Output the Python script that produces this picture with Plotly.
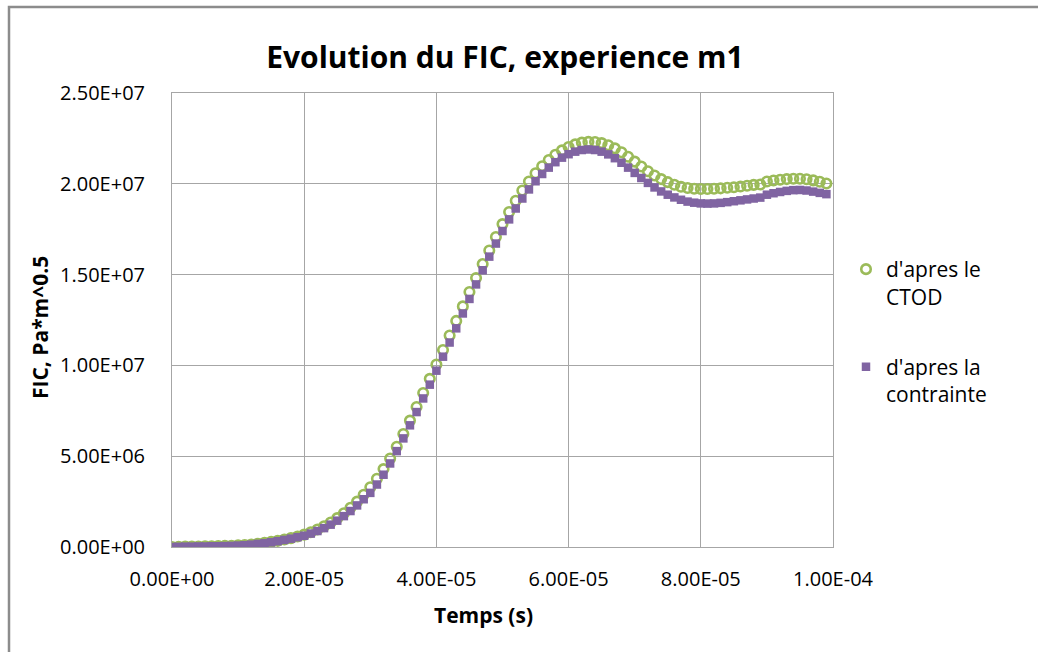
import plotly.graph_objects as go

# time in microseconds
temps_us = [0, 1, 2, 3, 4, 5, 6, 7, 8, 9, 10, 11, 12, 13, 14, 15, 16, 17, 18, 19,
            20, 21, 22, 23, 24, 25, 26, 27, 28, 29, 30, 31, 32, 33, 34, 35, 36, 37, 38, 39,
            40, 41, 42, 43, 44, 45, 46, 47, 48, 49, 50, 51, 52, 53, 54, 55, 56, 57, 58, 59,
            60, 61, 62, 63, 64, 65, 66, 67, 68, 69, 70, 71, 72, 73, 74, 75, 76, 77, 78, 79,
            80, 81, 82, 83, 84, 85, 86, 87, 88, 89, 90, 91, 92, 93, 94, 95, 96, 97, 98, 99]

# FIC from CTOD, in 1e6 Pa*m^0.5
fic_ctod = [0.00, 0.01, 0.02, 0.03, 0.03, 0.04, 0.04, 0.05, 0.06, 0.07,
            0.09, 0.11, 0.14, 0.18, 0.23, 0.28, 0.34, 0.41, 0.49, 0.58,
            0.68, 0.81, 0.96, 1.14, 1.35, 1.59, 1.86, 2.16, 2.50, 2.88,
            3.29, 3.76, 4.29, 4.87, 5.52, 6.22, 6.96, 7.71, 8.48, 9.26,
            10.05, 10.85, 11.65, 12.45, 13.25, 14.04, 14.81, 15.58, 16.33, 17.07,
            17.78, 18.45, 19.07, 19.63, 20.13, 20.58, 20.97, 21.31, 21.60, 21.84,
            22.03, 22.17, 22.27, 22.31, 22.30, 22.24, 22.12, 21.95, 21.74, 21.49,
            21.22, 20.95, 20.69, 20.46, 20.26, 20.09, 19.95, 19.84, 19.77, 19.73,
            19.71, 19.71, 19.73, 19.75, 19.78, 19.81, 19.85, 19.89, 19.94, 19.96,
            20.13, 20.18, 20.22, 20.26, 20.28, 20.28, 20.25, 20.19, 20.11, 20.02]

# FIC from stress, in 1e6 Pa*m^0.5
fic_contrainte = [0.00, 0.01, 0.02, 0.02, 0.03, 0.03, 0.04, 0.04, 0.05, 0.06,
                  0.08, 0.10, 0.13, 0.17, 0.21, 0.26, 0.32, 0.39, 0.46, 0.54,
                  0.62, 0.74, 0.88, 1.04, 1.23, 1.45, 1.70, 1.98, 2.29, 2.63,
                  2.98, 3.44, 3.98, 4.60, 5.28, 5.98, 6.70, 7.43, 8.18, 8.94,
                  9.71, 10.48, 11.26, 12.04, 12.86, 13.66, 14.46, 15.24, 15.99, 16.71,
                  17.40, 18.04, 18.64, 19.19, 19.69, 20.14, 20.54, 20.89, 21.19, 21.44,
                  21.63, 21.77, 21.86, 21.89, 21.86, 21.77, 21.62, 21.41, 21.16, 20.89,
                  20.60, 20.32, 20.05, 19.80, 19.58, 19.40, 19.25, 19.12, 19.02, 18.96,
                  18.92, 18.91, 18.92, 18.95, 18.99, 19.04, 19.09, 19.14, 19.19, 19.24,
                  19.40, 19.48, 19.55, 19.61, 19.65, 19.66, 19.63, 19.57, 19.50, 19.43]

x_tick_vals = [0, 2e-5, 4e-5, 6e-5, 8e-5, 1e-4]
x_tick_text = ["0.00E+00", "2.00E-05", "4.00E-05", "6.00E-05", "8.00E-05", "1.00E-04"]
y_tick_vals = [0, 5e6, 1e7, 1.5e7, 2e7, 2.5e7]
y_tick_text = ["0.00E+00", "5.00E+06", "1.00E+07", "1.50E+07", "2.00E+07", "2.50E+07"]

title_text = "Evolution du FIC, experience m1"
x_title = "Temps (s)"
y_title = "FIC, Pa*m^0.5"
name_ctod = "d'apres le<br>CTOD"
name_contrainte = "d'apres la<br>contrainte"

FONT = "Open Sans"
W, H = 1038, 652
L, R, T, B = 172, 833, 93, 547

t_s = [v * 1e-6 for v in temps_us]

fig = go.Figure()
fig.add_trace(go.Scatter(
    x=t_s, y=[v * 1e6 for v in fic_ctod], mode="markers", name=name_ctod,
    legendgroup="ctod",
    marker=dict(symbol="circle-open", size=9.5, color="#9BBB59",
                line=dict(width=2.6, color="#9BBB59")),
))
fig.add_trace(go.Scatter(
    x=t_s, y=[v * 1e6 for v in fic_contrainte], mode="markers", name=name_contrainte,
    legendgroup="contrainte",
    marker=dict(symbol="square", size=8.5, color="#8064A2", line=dict(width=0)),
))

def px_x(p):
    return (p - L) / (R - L)

def px_y(p):
    return (B - p) / (B - T)

fig.update_layout(
    width=W, height=H,
    margin=dict(l=L, r=W - R, t=T, b=H - B, pad=0, autoexpand=False),
    paper_bgcolor="white", plot_bgcolor="white",
    font=dict(family=FONT, size=20, color="#000000"),
    title=dict(text="<b>" + title_text + "</b>", x=505 / W, xref="container", xanchor="center",
               y=1 - 57 / H, yref="container", yanchor="middle",
               font=dict(family=FONT, size=30, color="#000000")),
    showlegend=True,
    legend=dict(xref="container", yref="container", x=846 / W, xanchor="left",
                y=1 - 249 / H, yanchor="top", valign="top",
                font=dict(family=FONT, size=21, color="#000000"),
                bgcolor="rgba(0,0,0,0)", tracegroupgap=40, itemwidth=30),
    xaxis=dict(range=[0, 1e-4], tickvals=x_tick_vals, ticktext=x_tick_text,
               showgrid=True, gridcolor="#A6A6A6", gridwidth=1,
               showline=True, linecolor="#A6A6A6", linewidth=1, mirror=True,
               ticks="", ticklabelstandoff=14, zeroline=False,
               tickfont=dict(family=FONT, size=20, color="#000000")),
    yaxis=dict(range=[0, 2.5e7], tickvals=y_tick_vals, ticktext=y_tick_text,
               showgrid=True, gridcolor="#A6A6A6", gridwidth=1,
               showline=True, linecolor="#A6A6A6", linewidth=1, mirror=True,
               ticks="", ticklabelstandoff=22, zeroline=False,
               tickfont=dict(family=FONT, size=20, color="#000000")),
    annotations=[
        dict(text="<b>" + x_title + "</b>", xref="paper", yref="paper",
             x=px_x(483), y=px_y(615), xanchor="center", yanchor="middle",
             showarrow=False, font=dict(family=FONT, size=21, color="#000000")),
        dict(text="<b>" + y_title + "</b>", xref="paper", yref="paper",
             x=px_x(40), y=px_y(328), xanchor="center", yanchor="middle",
             textangle=-90, showarrow=False,
             font=dict(family=FONT, size=21, color="#000000")),
    ],
    shapes=[
        dict(type="rect", xref="paper", yref="paper",
             x0=px_x(9), x1=px_x(1050), y0=px_y(665), y1=px_y(7),
             line=dict(color="#8C8C8C", width=2.5), fillcolor="rgba(0,0,0,0)",
             layer="below"),
    ],
)

fig.write_html("out.html", config={"displayModeBar": False},
               post_script="document.body.style.margin='0';")
